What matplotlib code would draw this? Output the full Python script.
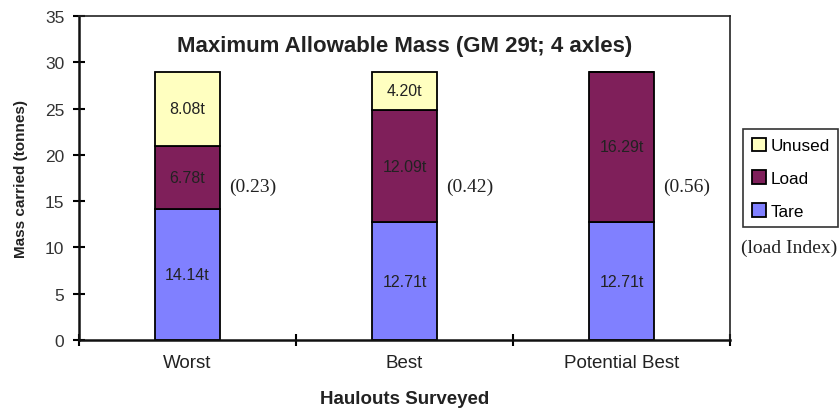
import numpy as np
import matplotlib.pyplot as plt

categories = ["Worst", "Best", "Potential Best"]
tare = [14.14, 12.71, 12.71]
load = [6.78, 12.09, 16.29]
unused = [8.08, 4.20, 0.0]
load_index = ["(0.23)", "(0.42)", "(0.56)"]

c_tare = "#8080ff"
c_load = "#7f1f5a"
c_unused = "#ffffc0"

sans = "Liberation Sans"
serif = "Liberation Serif"

fig = plt.figure(figsize=(8.4, 4.14), dpi=100)
ax = fig.add_axes([79 / 840, 1 - 341 / 414, (730 - 79) / 840, (341 - 17) / 414])

x = np.arange(len(categories))
w = 0.295
kw = dict(width=w, edgecolor="black", linewidth=1.3)
b_tare = ax.bar(x, tare, color=c_tare, label="Tare", **kw)
b_load = ax.bar(x, load, bottom=tare, color=c_load, label="Load", **kw)
bottom2 = np.array(tare) + np.array(load)
b_unused = ax.bar(x, unused, bottom=bottom2, color=c_unused, label="Unused", **kw)

# segment labels
lab_kw = dict(ha="center", va="center", fontsize=11.5, family=sans, color="#222222")
for i in range(len(categories)):
    ax.text(x[i], tare[i] / 2, f"{tare[i]:.2f}t", **lab_kw)
    ax.text(x[i], tare[i] + load[i] / 2, f"{load[i]:.2f}t", **lab_kw)
    if unused[i] > 0:
        ax.text(x[i], bottom2[i] + unused[i] / 2, f"{unused[i]:.2f}t", **lab_kw)
    ax.text(x[i] + 0.3, 16.6, load_index[i], ha="center", va="center",
            fontsize=14, family=serif, color="#222222")

ax.set_xlim(-0.5, 2.5)
ax.set_ylim(0, 35)
ax.set_yticks(np.arange(0, 36, 5))
ax.set_xticks(x)
ax.set_xticklabels(categories, family=sans, fontsize=13.5, color="#222222")
ax.set_xticks([-0.5, 0.5, 1.5, 2.5], minor=True)
ax.tick_params(axis="x", which="major", length=0, pad=10)
ax.tick_params(axis="x", which="minor", direction="inout", length=9, width=1.5)
ax.tick_params(axis="y", direction="inout", length=9, width=1.5, pad=6,
               labelsize=12.5, labelcolor="#333333")
for lab in ax.get_yticklabels():
    lab.set_family(sans)

for s in ["left", "bottom"]:
    ax.spines[s].set_linewidth(1.8)
    ax.spines[s].set_color("#111111")
for s in ["top", "right"]:
    ax.spines[s].set_linewidth(1.2)
    ax.spines[s].set_color("#222222")

ax.set_title("Maximum Allowable Mass (GM 29t; 4 axles)", family=sans,
             fontweight="bold", fontsize=16, color="#222222", y=0.865)
ax.set_ylabel("Mass carried (tonnes)", family=sans, fontweight="bold",
              fontsize=11, color="#222222", labelpad=12)
ax.set_xlabel("Haulouts Surveyed", family=sans, fontweight="bold",
              fontsize=13.5, color="#222222", labelpad=14)

leg = fig.legend(handles=[b_unused, b_load, b_tare], loc="upper left",
                 bbox_to_anchor=(743 / 840, 1 - 130 / 414), frameon=True,
                 fancybox=False, edgecolor="black", handlelength=0.85,
                 handleheight=0.85, handletextpad=0.25, borderpad=0.5,
                 labelspacing=1.0, prop={"family": sans, "size": 12.3},
                 borderaxespad=0)
leg.get_frame().set_linewidth(1.2)
fig.text(789 / 840, 1 - 248 / 414, "(load Index)", ha="center", va="center",
         family=serif, fontsize=14, color="#222222")

fig.savefig("out.png", dpi=100)
